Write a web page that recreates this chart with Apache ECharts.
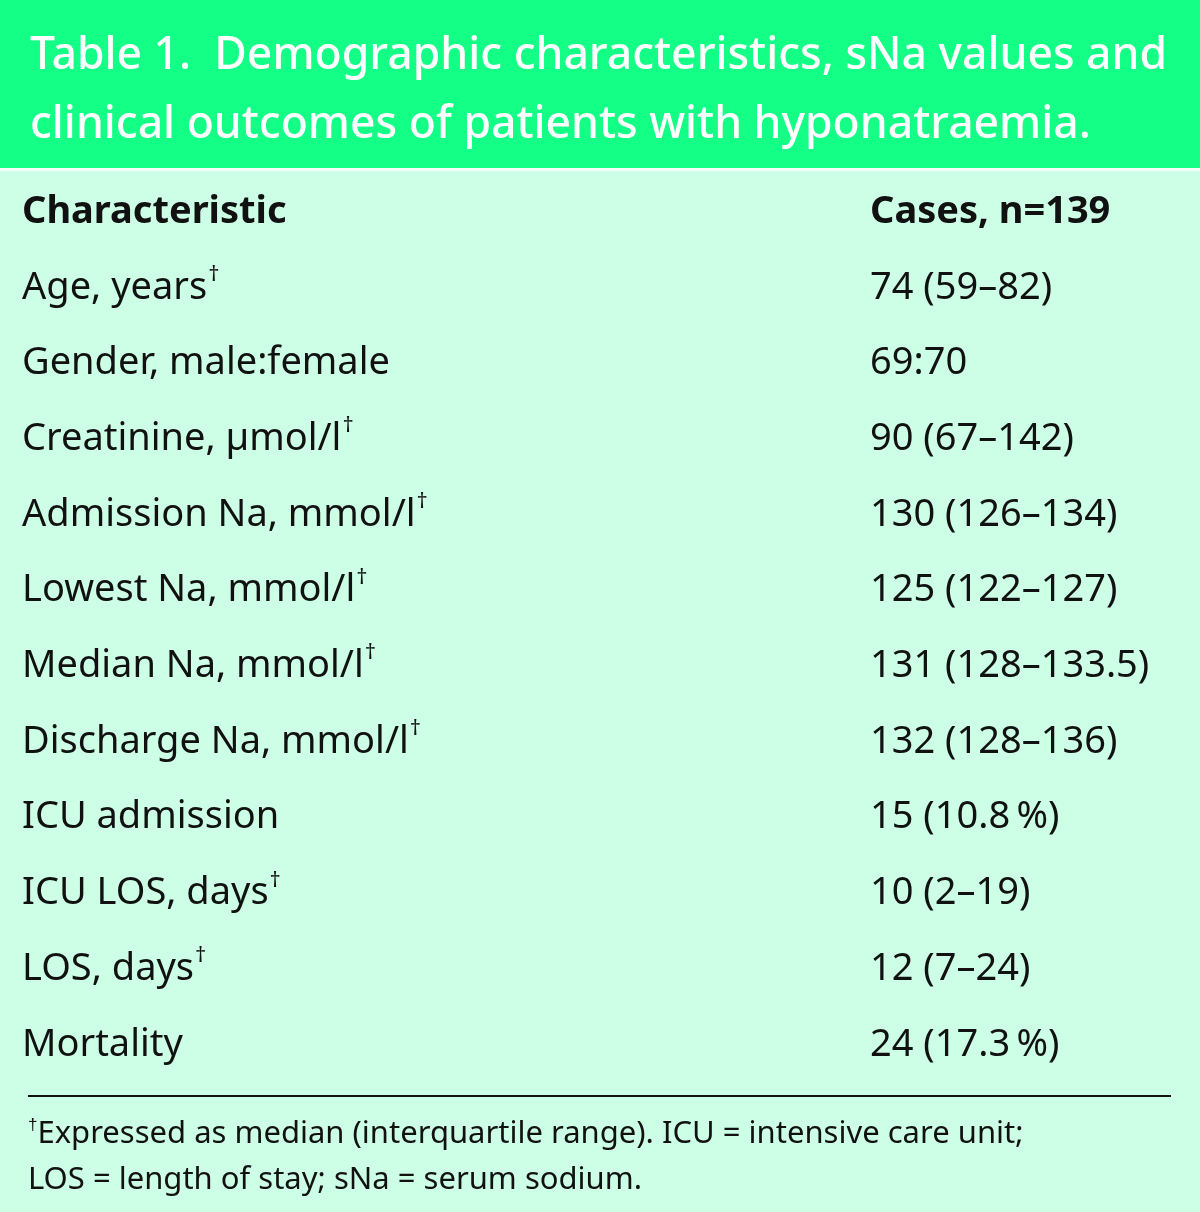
<!DOCTYPE html>
<html><head><meta charset="utf-8">
<script src="https://cdn.jsdelivr.net/npm/echarts@6/dist/echarts.min.js"></script>
<style>html,body{margin:0;padding:0;background:#ccffe6}#c{width:1200px;height:1212px}</style>
</head><body><div id="c"></div>
<script>
const titleLines = ['Table 1.  Demographic characteristics, sNa values and', 'clinical outcomes of patients with hyponatraemia.'];
const headers = ['Characteristic', 'Cases, n=139'];
const characteristics = ['Age, years', 'Gender, male:female', 'Creatinine, \u00b5mol/l', 'Admission Na, mmol/l', 'Lowest Na, mmol/l', 'Median Na, mmol/l', 'Discharge Na, mmol/l', 'ICU admission', 'ICU LOS, days', 'LOS, days', 'Mortality'];
const daggers = [true, false, true, true, true, true, true, false, true, true, false];
const cases = ['74 (59\u201382)', '69:70', '90 (67\u2013142)', '130 (126\u2013134)', '125 (122\u2013127)', '131 (128\u2013133.5)', '132 (128\u2013136)', '15 (10.8\u2009%)', '10 (2\u201319)', '12 (7\u201324)', '24 (17.3\u2009%)'];
const footnotes = ['{sup|\u2020}Expressed as median (interquartile range). ICU = intensive care unit;', 'LOS = length of stay; sNa = serum sodium.'];

const FONT = '"Noto Sans", sans-serif';
const chart = echarts.init(document.getElementById('c'), null, {renderer: 'canvas'});
const g = [];
g.push({type: 'rect', shape: {x: 0, y: 0, width: 1200, height: 1212}, style: {fill: '#ccffe6'}, z: 0});
g.push({type: 'rect', shape: {x: 0, y: 0, width: 1200, height: 168}, style: {fill: '#14ff86'}, z: 1});
g.push({type: 'rect', shape: {x: 0, y: 168, width: 1200, height: 3}, style: {fill: '#f4fff9'}, z: 1});
titleLines.forEach((t, i) => {
  g.push({type: 'text', x: 30, y: 56 + i * 69, z: 2, style: {text: t, fill: '#ffffff', font: '500 44.5px ' + FONT, verticalAlign: 'middle', align: 'left'}});
});
const rowY = i => 212 + i * 75.7;
const colX = [22, 870];
headers.forEach((h, j) => {
  g.push({type: 'text', x: colX[j], y: rowY(0), z: 2, style: {text: h, fill: '#111111', font: 'bold 38px ' + FONT, verticalAlign: 'middle'}});
});
characteristics.forEach((c, i) => {
  const y = rowY(i + 1);
  g.push({type: 'text', x: colX[0], y: y, z: 2, style: {
    text: daggers[i] ? c + '{sup|\u2020}' : c,
    fill: '#111111', font: '38px ' + FONT, verticalAlign: 'middle',
    rich: {sup: {fontSize: 22, fontFamily: 'Noto Sans', verticalAlign: 'top', padding: [0, 0, 26, 1], fill: '#111111'}}
  }});
  g.push({type: 'text', x: colX[1], y: y, z: 2, style: {text: cases[i], fill: '#111111', font: '38px ' + FONT, verticalAlign: 'middle'}});
});
g.push({type: 'line', shape: {x1: 28, y1: 1096, x2: 1171, y2: 1096}, style: {stroke: '#111111', lineWidth: 2}, z: 2});
footnotes.forEach((f, i) => {
  g.push({type: 'text', x: 28, y: 1134 + i * 46, z: 2, style: {
    text: f, fill: '#111111', font: '31px ' + FONT, verticalAlign: 'middle',
    rich: {sup: {fontSize: 17, verticalAlign: 'top', padding: [0, 0, 18, 0], fill: '#111111'}}
  }});
});
chart.setOption({animation: false, backgroundColor: '#ccffe6', graphic: {elements: g}});
</script></body></html>
